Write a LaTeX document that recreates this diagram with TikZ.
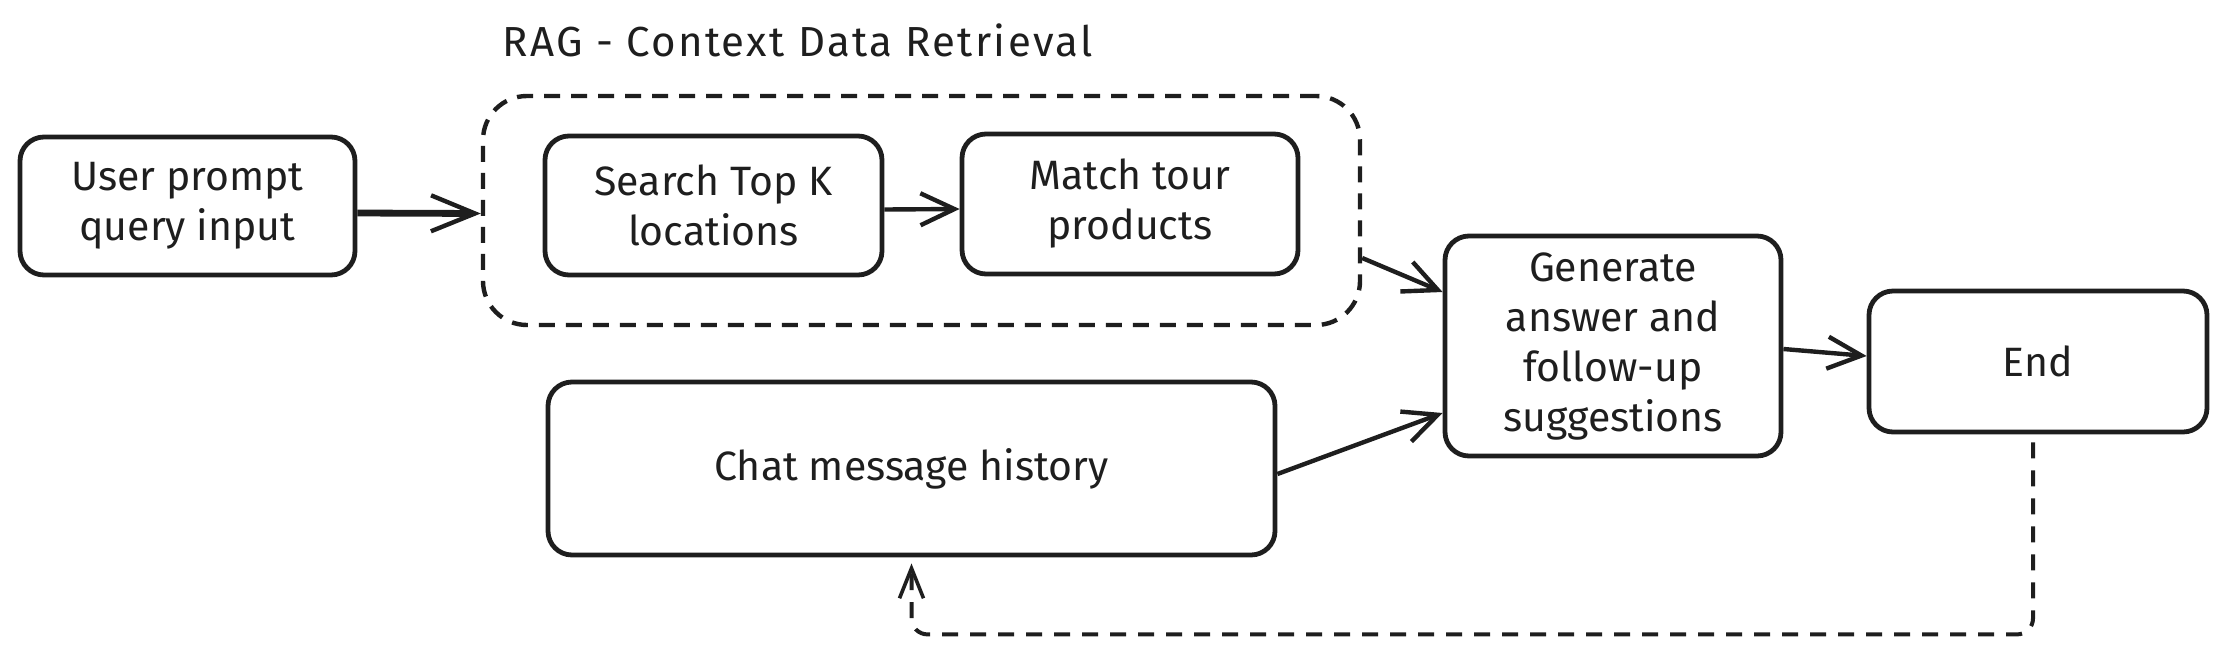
\documentclass[tikz,border=0pt]{standalone}
\usepackage{fontspec}
\setmainfont{Fira Sans}
\usetikzlibrary{arrows.meta}
\definecolor{ink}{HTML}{1E1E1E}
\tikzset{
  box/.style={draw=ink, line width=2.4pt, rounded corners=12pt, align=center, text=ink,
    font=\fontsize{20.5}{25}\selectfont, inner sep=0pt},
  grp/.style={draw=ink, line width=2.2pt, rounded corners=22pt, dash pattern=on 8pt off 5.5pt},
  conn/.style={draw=ink, line width=2.2pt, -{Straight Barb[length=17pt,width=16pt,line width=2.2pt]}},
  thick conn/.style={draw=ink, line width=3.4pt, -{Straight Barb[length=22pt,width=18pt,line width=2.2pt]}},
  loop/.style={draw=ink, line width=2pt, dash pattern=on 8pt off 6pt, rounded corners=8pt,
    -{Straight Barb[length=15pt,width=12pt,line width=1.8pt]}},
  ttl/.style={text=ink, font=\fontsize{21}{25}\selectfont\addfontfeature{LetterSpace=5.5}, inner sep=0pt, anchor=west}
}
\begin{document}
\begin{tikzpicture}[x=0.5pt,y=-0.5pt]
\useasboundingbox (0,0) rectangle (2226,654);
\node[ttl] (title) at (502,40) {RAG - Context Data Retrieval};
\node[grp, minimum width=438.5pt, minimum height=114.5pt] (group) at (921.5,210.5) {};
\node[box, minimum width=167.5pt, minimum height=69pt] (user) at (187.5,206) {User prompt\\query input};
\node[box, minimum width=168.5pt, minimum height=69.5pt] (search) at (713.5,205.5) {Search Top K\\locations};
\node[box, minimum width=168pt, minimum height=70pt] (match) at (1130,204) {Match tour\\products};
\node[box, minimum width=168pt, minimum height=110pt] (gen) at (1613,346) {Generate\\answer and\\follow-up\\suggestions};
\node[box, minimum width=169pt, minimum height=70.5pt] (end) at (2038,361.5) {End};
\node[box, minimum width=363.5pt, minimum height=86.5pt] (chat) at (911.5,468.5) {Chat message history};
\draw[thick conn] ([yshift=-3.5pt]user.east) -- ([yshift=-1.5pt]group.west);
\draw[conn] ([yshift=-2pt]search.east) -- ([yshift=-2.5pt]match.west);
\draw[conn] ([yshift=-23.75pt]group.east) -- ([yshift=27pt]gen.west);
\draw[conn] ([yshift=-2.75pt]chat.east) -- ([yshift=-33.5pt]gen.west);
\draw[conn] ([yshift=-1.5pt]gen.east) -- ([yshift=2.75pt]end.west);
\draw[loop] ([xshift=-2.5pt,yshift=-4pt]end.south) -- ++(0,192) -| ([yshift=-3pt]chat.south);
\end{tikzpicture}
\end{document}
